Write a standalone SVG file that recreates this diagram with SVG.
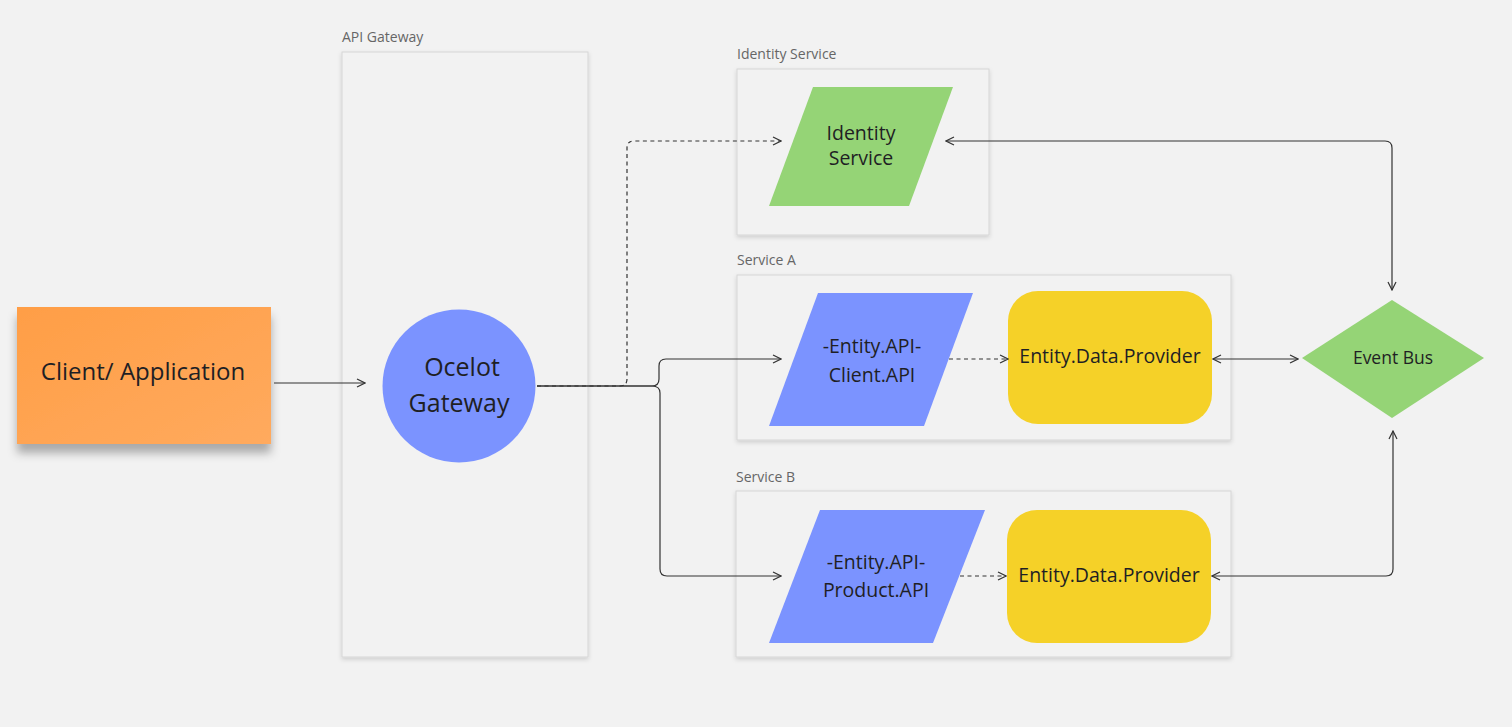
<svg xmlns="http://www.w3.org/2000/svg" width="1512" height="727" viewBox="0 0 1512 727">
<defs>
<style>
text{font-family:"Open Sans","Noto Sans","Liberation Sans",sans-serif;fill:#1f1f24}
.lbl{font-size:14px;fill:#666}
.frame{fill:#f2f2f2;stroke:#d6d6d6;stroke-width:1;filter:url(#fsh)}
.c{fill:none;stroke:#333;stroke-width:1.2}
.d{stroke-dasharray:4 3.5}
.t18{font-size:19.5px;text-anchor:middle}
</style>
<filter id="fsh" x="-5%" y="-5%" width="110%" height="115%">
<feDropShadow dx="0" dy="2" stdDeviation="2" flood-color="#000" flood-opacity="0.15"/>
</filter>
<filter id="ssh" x="-10%" y="-10%" width="120%" height="140%">
<feDropShadow dx="0" dy="9" stdDeviation="5" flood-color="#000" flood-opacity="0.3"/>
</filter>
<linearGradient id="og" x1="0" y1="0" x2="1" y2="1">
<stop offset="0" stop-color="#ff9e46"/>
<stop offset="1" stop-color="#ffaa5e"/>
</linearGradient>
<marker id="ae" viewBox="0 0 10 10" refX="9" refY="5" markerWidth="10" markerHeight="10" markerUnits="userSpaceOnUse" orient="auto">
<path d="M1,1 L9,5 L1,9" fill="none" stroke="#333" stroke-width="1.2"/>
</marker>
<marker id="as" viewBox="0 0 10 10" refX="9" refY="5" markerWidth="10" markerHeight="10" markerUnits="userSpaceOnUse" orient="auto-start-reverse">
<path d="M1,1 L9,5 L1,9" fill="none" stroke="#333" stroke-width="1.2"/>
</marker>
</defs>
<rect x="0" y="0" width="1512" height="727" fill="#f2f2f2"/>

<g id="client">
<rect x="17" y="307" width="254" height="137" fill="url(#og)" filter="url(#ssh)"/>
<text x="143" y="380" font-size="24" text-anchor="middle">Client/ Application</text>
</g>

<g id="api-gateway-frame">
<text class="lbl" x="342" y="42">API Gateway</text>
<rect class="frame" x="342" y="52" width="246" height="605"/>
</g>

<g id="identity-frame">
<text class="lbl" x="737" y="59">Identity Service</text>
<rect class="frame" x="737" y="69" width="252" height="166"/>
</g>

<g id="service-a-frame">
<text class="lbl" x="737" y="265">Service A</text>
<rect class="frame" x="737" y="275" width="494" height="165"/>
</g>

<g id="service-b-frame">
<text class="lbl" x="736" y="482">Service B</text>
<rect class="frame" x="736" y="491" width="495" height="166"/>
</g>

<g id="ocelot-gateway">
<circle cx="459" cy="386" r="76.5" fill="#7b93ff"/>
<text x="462" y="376" font-size="25" text-anchor="middle">Ocelot</text>
<text x="459" y="412" font-size="25" text-anchor="middle">Gateway</text>
</g>

<g id="identity-service">
<polygon points="813,87 953,87 909,206 769,206" fill="#95d476"/>
<text class="t18" x="861" y="140">Identity</text>
<text class="t18" x="861" y="165">Service</text>
</g>

<g id="client-api">
<polygon points="818,293 973,293 924,426 769,426" fill="#7b93ff"/>
<text class="t18" x="872" y="353">-Entity.API-</text>
<text class="t18" x="872" y="382">Client.API</text>
</g>

<g id="data-provider-a">
<rect x="1008" y="291" width="204" height="133" rx="30" fill="#f5d128"/>
<text class="t18" x="1110" y="363">Entity.Data.Provider</text>
</g>

<g id="product-api">
<polygon points="820,510 985,510 933,643 769,643" fill="#7b93ff"/>
<text class="t18" x="876" y="569">-Entity.API-</text>
<text class="t18" x="876" y="597">Product.API</text>
</g>

<g id="data-provider-b">
<rect x="1007" y="510" width="204" height="133" rx="30" fill="#f5d128"/>
<text class="t18" x="1109" y="582">Entity.Data.Provider</text>
</g>

<g id="event-bus">
<polygon points="1302,358 1392,300 1484,358 1392,418" fill="#95d476"/>
<text x="1393" y="364" font-size="17.5" text-anchor="middle">Event Bus</text>
</g>

<g id="connectors">
<path class="c" d="M274,383 H365" marker-end="url(#ae)"/>
<path class="c d" d="M537,386 H620 Q627,386 627,379 V148 Q627,141 634,141 H781" marker-end="url(#ae)"/>
<path class="c" d="M537,386 H652 Q659,386 659,379 V366 Q659,359 666,359 H781" marker-end="url(#ae)"/>
<path class="c" d="M537,386 H652 Q660,386 660,393 V569 Q660,576 667,576 H781" marker-end="url(#ae)"/>
<path class="c d" d="M949,359 H1008" marker-end="url(#ae)"/>
<path class="c d" d="M960,576 H1006" marker-end="url(#ae)"/>
<path class="c" d="M946,141 H1385 Q1392,141 1392,148 V290" marker-start="url(#as)" marker-end="url(#ae)"/>
<path class="c" d="M1213,359 H1298" marker-start="url(#as)" marker-end="url(#ae)"/>
<path class="c" d="M1212,576 H1386 Q1393,576 1393,569 V431" marker-start="url(#as)" marker-end="url(#ae)"/>
</g>
</svg>
